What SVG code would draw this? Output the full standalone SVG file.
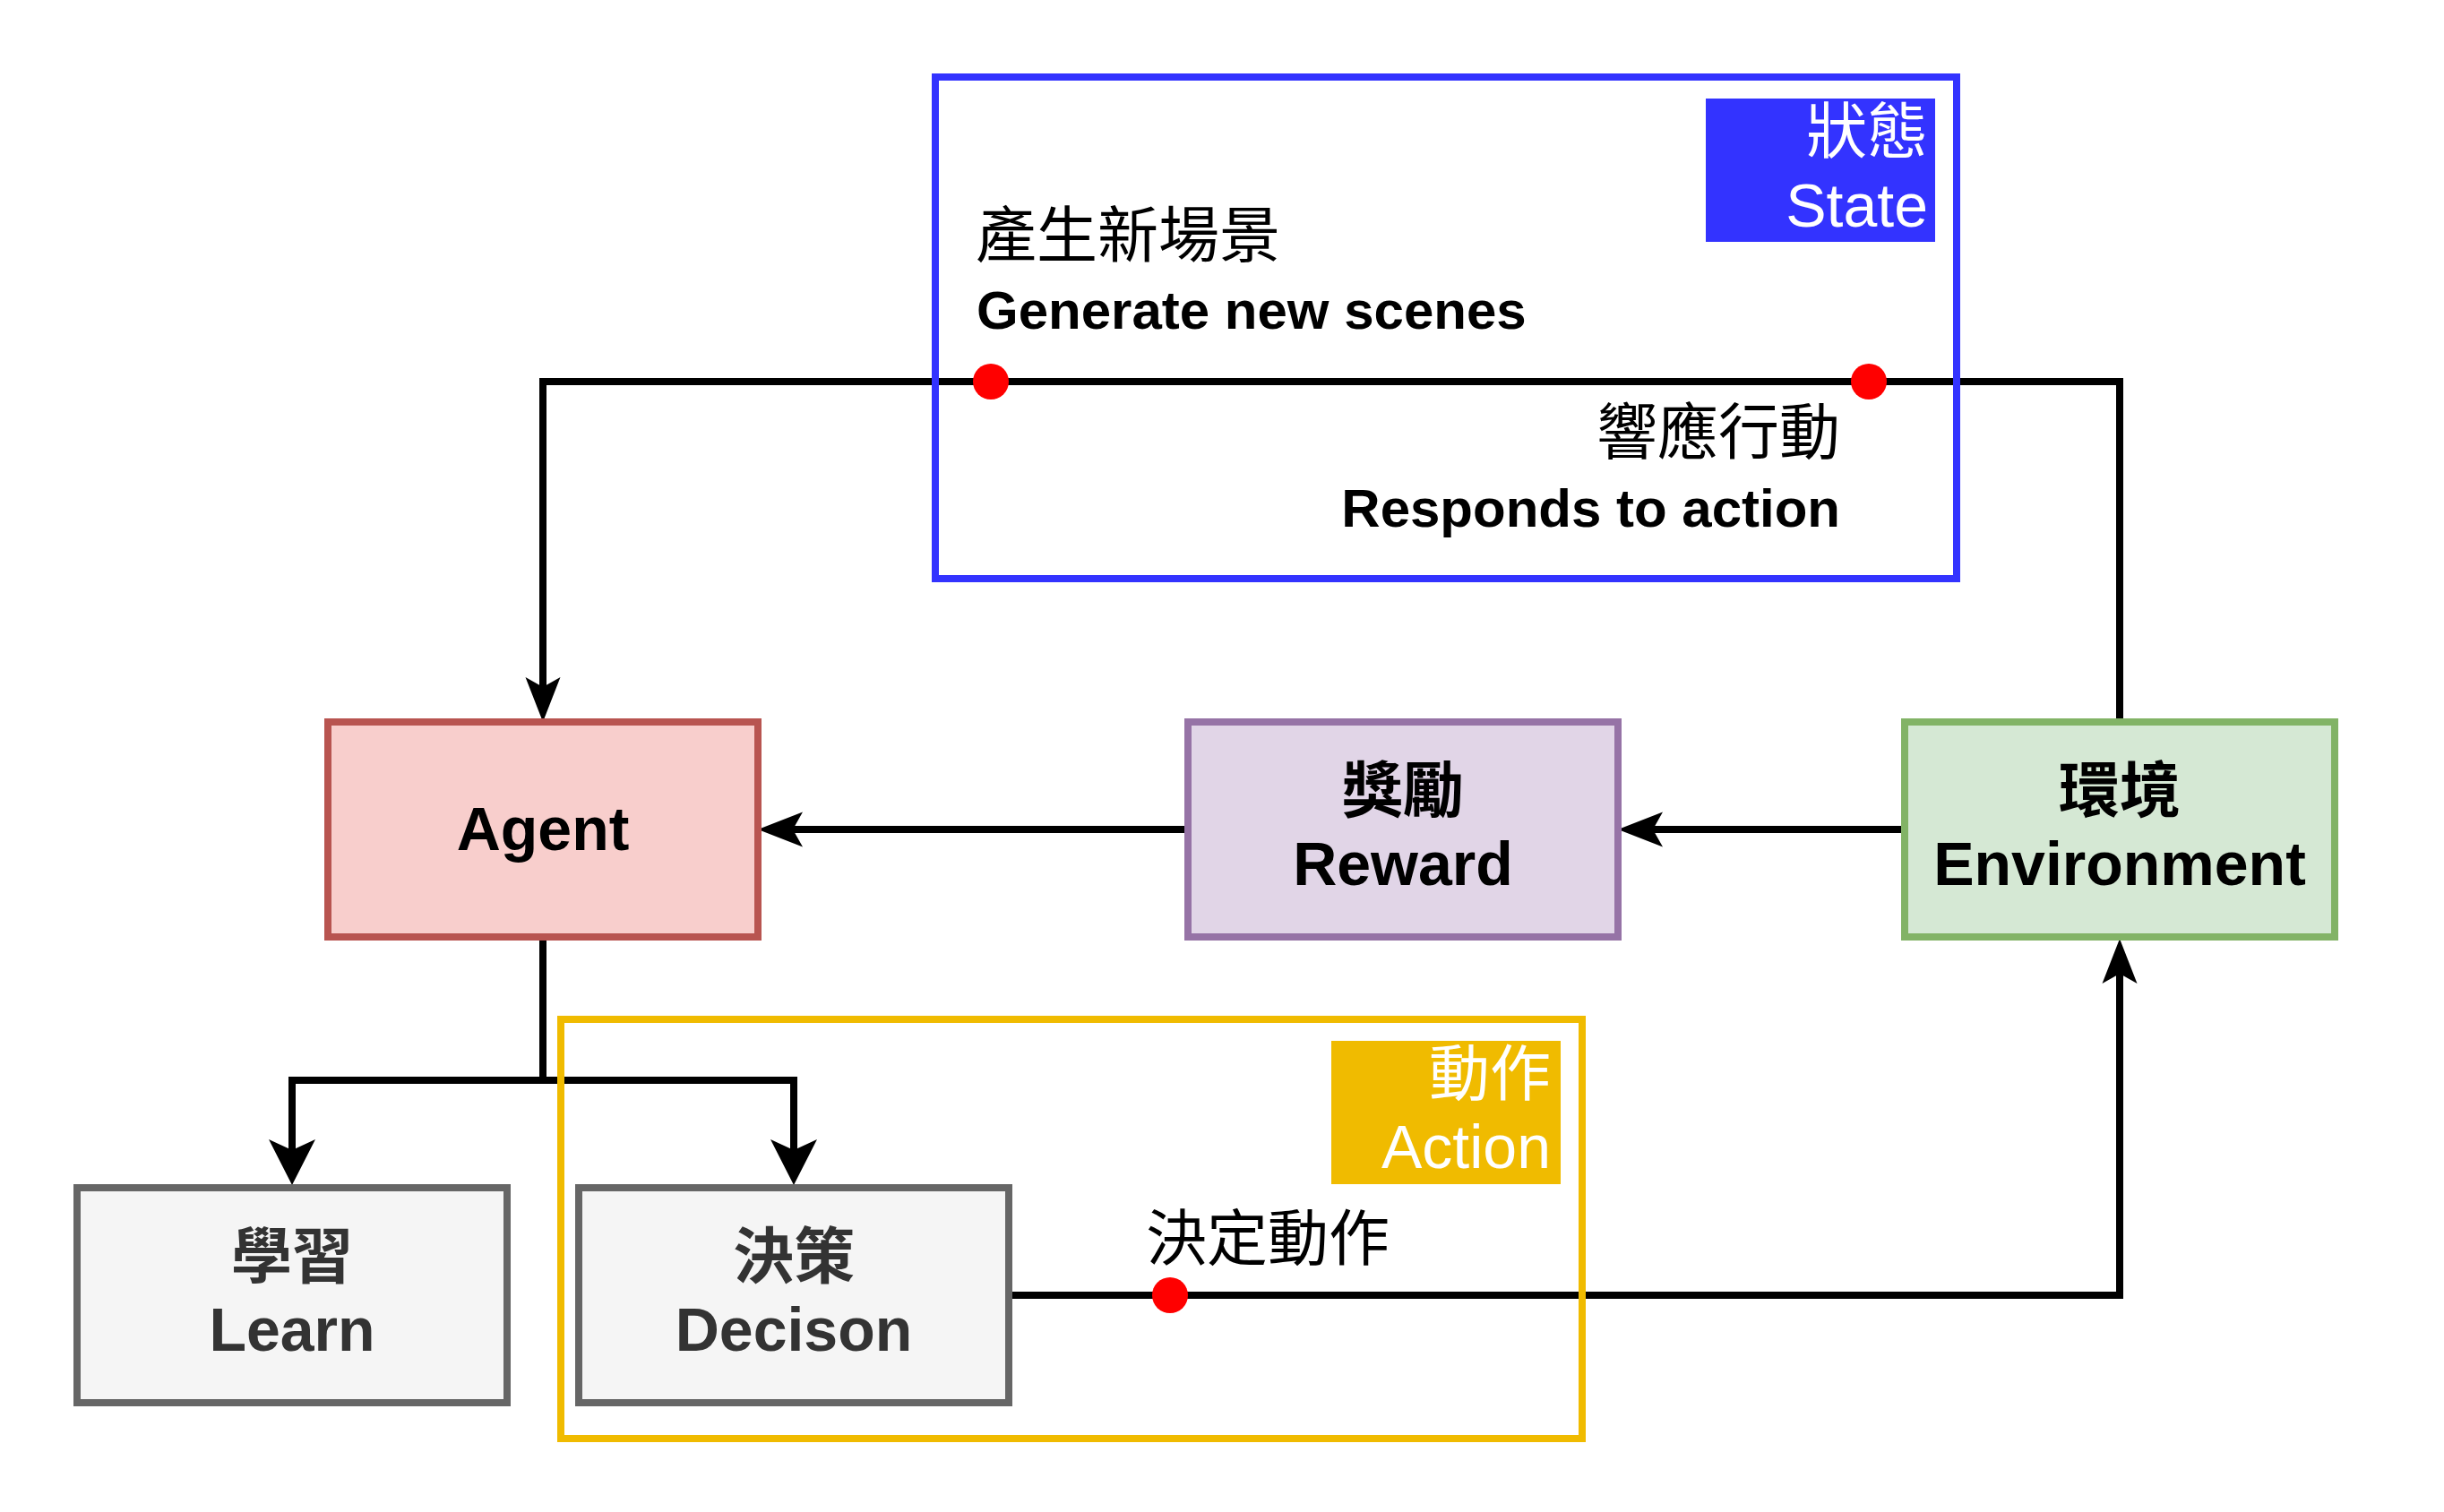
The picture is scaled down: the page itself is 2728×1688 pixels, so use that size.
<svg xmlns="http://www.w3.org/2000/svg" width="2728" height="1688" viewBox="0 0 2728 1688">
<style>
  .t { font-family: "Liberation Sans", "Noto Sans CJK TC", sans-serif; }
  .b { font-weight: bold; }
  .f68 { font-size: 68px; }
  .f60 { font-size: 60px; }
  .mid { text-anchor: middle; }
  .end { text-anchor: end; }
  .edge { fill: none; stroke: #000000; stroke-width: 8; stroke-linejoin: miter; stroke-linecap: butt; }
  .node rect { stroke-width: 8; }
  .dot { fill: #FF0000; }
</style>
<defs>
  <marker id="arrowA" markerUnits="userSpaceOnUse" viewBox="-52 -22 54 44" markerWidth="54" markerHeight="44" refX="-36" refY="0" orient="auto">
    <path d="M0,0 L-50,-19.5 L-39,0 L-50,19.5 Z" fill="#000000"/>
  </marker>
  <marker id="arrowB" markerUnits="userSpaceOnUse" viewBox="-53 -28 55 56" markerWidth="55" markerHeight="56" refX="-36" refY="0" orient="auto">
    <path d="M0,0 L-51,-26 L-39,0 L-51,26 Z" fill="#000000"/>
  </marker>
</defs>
<rect width="2728" height="1688" fill="#FFFFFF"/>

<g id="connectors">
  <path class="edge" d="M2366,806 V426 H606 V770" marker-end="url(#arrowA)"/>
  <path class="edge" d="M2126,926 H1842" marker-end="url(#arrowA)"/>
  <path class="edge" d="M1326,926 H882" marker-end="url(#arrowA)"/>
  <path class="edge" d="M606,1046 V1206 H326 V1287" marker-end="url(#arrowB)"/>
  <path class="edge" d="M606,1206 H886 V1287" marker-end="url(#arrowB)"/>
  <path class="edge" d="M1126,1446 H2366 V1084" marker-end="url(#arrowA)"/>
</g>

<g id="state-group">
  <rect x="1044" y="86" width="1140" height="560" fill="none" stroke="#3333FF" stroke-width="8"/>
  <rect x="1904" y="110" width="256" height="160" fill="#3333FF"/>
  <text class="t f68 end" x="2152" y="171" fill="#FFFFFF">狀態</text>
  <text class="t f68 end" x="2152" y="253" fill="#FFFFFF">State</text>
</g>

<g id="action-group">
  <rect x="626" y="1138" width="1140" height="468" fill="none" stroke="#F0BB00" stroke-width="8"/>
  <rect x="1486" y="1162" width="256" height="160" fill="#F0BB00"/>
  <text class="t f68 end" x="1731" y="1223" fill="#FFFFFF">動作</text>
  <text class="t f68 end" x="1731" y="1304" fill="#FFFFFF">Action</text>
</g>

<g id="agent" class="node">
  <rect x="366" y="806" width="480" height="240" fill="#F8CECC" stroke="#B85450"/>
  <text class="t b f68 mid" x="606" y="949" fill="#000000">Agent</text>
</g>

<g id="reward" class="node">
  <rect x="1326" y="806" width="480" height="240" fill="#E1D5E7" stroke="#9673A6"/>
  <text class="t b f68 mid" x="1566" y="907" fill="#000000">獎勵</text>
  <text class="t b f68 mid" x="1566" y="988" fill="#000000">Reward</text>
</g>

<g id="environment" class="node">
  <rect x="2126" y="806" width="480" height="240" fill="#D5E8D4" stroke="#82B366"/>
  <text class="t b f68 mid" x="2366" y="907" fill="#000000">環境</text>
  <text class="t b f68 mid" x="2366" y="988" fill="#000000">Environment</text>
</g>

<g id="learn" class="node">
  <rect x="86" y="1326" width="480" height="240" fill="#F5F5F5" stroke="#666666"/>
  <text class="t b f68 mid" x="326" y="1427" fill="#333333">學習</text>
  <text class="t b f68 mid" x="326" y="1508" fill="#333333">Learn</text>
</g>

<g id="decision" class="node">
  <rect x="646" y="1326" width="480" height="240" fill="#F5F5F5" stroke="#666666"/>
  <text class="t b f68 mid" x="886" y="1427" fill="#333333">決策</text>
  <text class="t b f68 mid" x="886" y="1508" fill="#333333">Decison</text>
</g>

<g id="edge-labels">
  <circle class="dot" cx="1106" cy="426" r="20"/>
  <text class="t f68" x="1089" y="287" fill="#000000">產生新場景</text>
  <text class="t b f60" x="1090" y="367" fill="#000000">Generate new scenes</text>
  <circle class="dot" cx="2086" cy="426" r="20"/>
  <text class="t f68 end" x="2054" y="507" fill="#000000">響應行動</text>
  <text class="t b f60 end" x="2054" y="588" fill="#000000">Responds to action</text>
  <circle class="dot" cx="1306" cy="1446" r="20"/>
  <text class="t f68" x="1279" y="1407" fill="#000000">決定動作</text>
</g>
</svg>
